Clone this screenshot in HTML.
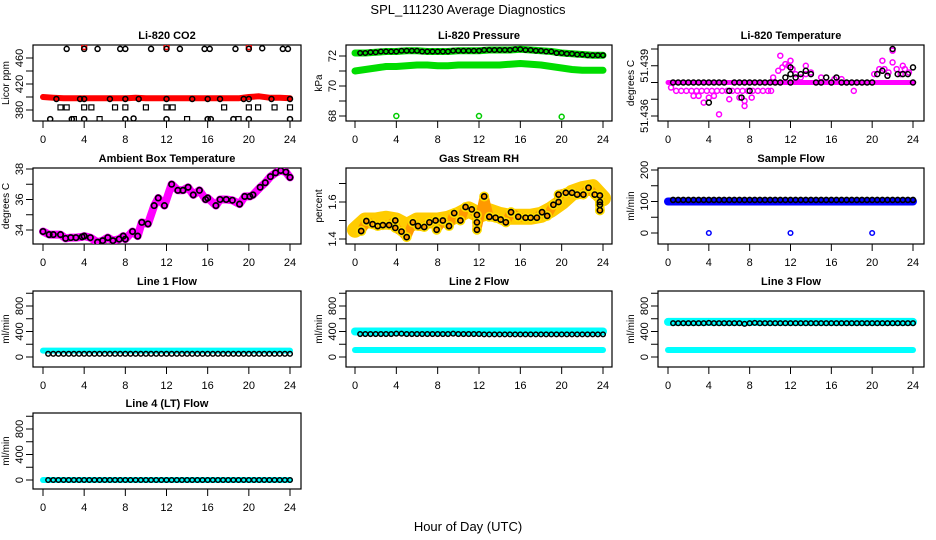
<!DOCTYPE html>
<html><head><meta charset="utf-8">
<style>
html,body{margin:0;padding:0;background:#fff;}
svg{display:block;font-family:"Liberation Sans",sans-serif;}
</style></head>
<body>
<svg id="chart" width="936" height="540" viewBox="0 0 936 540">
<rect x="0" y="0" width="936" height="540" fill="#fff"/>
<text x="468" y="14" font-size="13" text-anchor="middle">SPL_111230  Average Diagnostics</text>
<text x="468" y="531" font-size="13" text-anchor="middle">Hour of Day (UTC)</text>
</svg>
<script>
// ---------- DATA ----------
const xTickLabels = [0,4,8,12,16,20,24];
const HOURS = [0,1,2,3,4,5,6,7,8,9,10,11,12,13,14,15,16,17,18,19,20,21,22,23,24];
const HALF = [0.5,1,1.5,2,2.5,3,3.5,4,4.5,5,5.5,6,6.5,7,7.5,8,8.5,9,9.5,10,10.5,11,11.5,12,12.5,13,13.5,14,14.5,15,15.5,16,16.5,17,17.5,18,18.5,19,19.5,20,20.5,21,21.5,22,22.5,23,23.5,24];

// CO2
const co2Red = [400,399,398,398,398,398,398,398,398,399,398,398,398,398,398,398,398,398,398,398,400,401,399,399,398];
const co2RedOutX = [4,12,20];
const co2RedOutY = [477,477,477];
const co2HiX = [2.3,4,5.3,7.5,8,10.5,12,13.3,15.7,16.2,18.7,20,21.3,23.3,23.8];
const co2HiY = [474,474,474,474,474,474,474,474,474,474,474,474,475,474,474];
const co2MidX = [1.3,3.6,4,6.5,8,9.3,12,14.5,16,17.2,19.5,20,22.2,24];
const co2MidY = [397,397,397,397,397,397,397,397,397,397,397,397,397,397];
const co2LowX = [0.7,2.8,4,8,8.8,12,16,16.3,18.5,20,24];
const co2LowY = [366,366,366,366,367,366,366,366,366,366,366];
const co2SqX = [1.7,2.3,3,4,4.7,5.5,7,8,10,12,12.6,14,17.6,19,20,20.9,22.5,24];
const co2SqY = [384,384,366,384,384,366,384,384,384,384,384,366,384,366,384,384,384,384];

// Pressure
const presUpper = [72.2,72.2,72.25,72.3,72.3,72.35,72.35,72.3,72.3,72.3,72.35,72.35,72.35,72.4,72.4,72.4,72.45,72.4,72.35,72.3,72.2,72.15,72.1,72.05,72.05];
const presLower = [71.0,71.1,71.2,71.3,71.3,71.35,71.4,71.4,71.35,71.35,71.4,71.4,71.4,71.4,71.4,71.45,71.5,71.45,71.4,71.3,71.2,71.1,71.05,71.05,71.05];
const presOutX = [4,12,20];
const presOutY = [68.0,68.0,67.95];

// Li-820 temperature
const tempMain = [51.438,51.438,51.438,51.438,51.438,51.438,51.438,51.438,51.438,51.438,51.438,51.438,51.438,51.438,51.438,51.438,51.438,51.438,51.438,51.438,51.438,51.438,51.438,51.438,51.438];
const tempMagX = [0.3,0.8,1.3,1.8,2.3,2.8,3.3,3.8,4.3,4.8,5.3,5.8,6.3,6.8,7.3,7.8,8.3,8.8,9.3,9.8,2.5,3.0,4.0,4.5,6.0,7.0,7.5,8.2,5.0,7.5,10.3,10.8,11.2,11.5,11.8,12.2,12.5,13.0,13.5,14.0,15.0,16.3,17.0,20.2,20.7,21.2,21.6,22.0,22.4,22.8,23.2,23.6,11.0,12.0,13.5,21.0,22.0,23.0,3.5,10.1,18.2];
const tempMagY = [51.4377,51.4375,51.4375,51.4375,51.4375,51.4375,51.4375,51.4375,51.4375,51.4375,51.4375,51.4375,51.4375,51.4375,51.4375,51.4375,51.4375,51.4375,51.4375,51.4375,51.4372,51.4372,51.4371,51.4372,51.437,51.4371,51.4369,51.4371,51.4361,51.4366,51.4383,51.4387,51.4389,51.4391,51.439,51.4388,51.4385,51.4383,51.4385,51.4386,51.4383,51.4382,51.4382,51.4385,51.4388,51.4388,51.4386,51.4392,51.4388,51.4385,51.4388,51.4386,51.4396,51.4393,51.439,51.4393,51.4399,51.439,51.4368,51.4375,51.4375];
const tempBlkX = [0.5,1,1.5,2,2.5,3,3.5,4,4.5,5,5.5,6,6.5,7,7.5,8,8.5,9,9.5,10,10.5,11,11.5,12,12.5,13,13.5,14,14.5,15,15.5,16,16.5,17,17.5,18,18.5,19,19.5,20,20.5,21,21.5,22,22.5,23,23.5,24,4,7.2,8,12,12,24];
const tempBlkY = [51.438,51.438,51.438,51.438,51.438,51.438,51.438,51.438,51.438,51.438,51.438,51.4375,51.438,51.438,51.438,51.438,51.438,51.438,51.438,51.438,51.438,51.438,51.4383,51.438,51.4383,51.4385,51.4387,51.4385,51.438,51.438,51.4383,51.438,51.4383,51.438,51.438,51.438,51.438,51.438,51.438,51.438,51.4385,51.4387,51.4384,51.440,51.4385,51.4385,51.4385,51.438,51.4368,51.4371,51.4375,51.4389,51.4385,51.4389];

// Ambient box temperature
const ambX = [0,0.6,1.0,1.7,2.2,2.7,3.2,3.8,4.0,4.6,5.3,5.8,6.3,6.8,7.4,7.8,8.0,8.7,9.2,9.6,10.2,10.8,11.2,11.8,12.5,13.1,13.6,14.1,14.6,15.2,15.8,16.0,16.8,17.2,17.8,18.4,19.1,19.6,20.1,20.4,21.1,21.6,22.1,22.6,23.1,23.6,24.0];
const ambY = [33.9,33.7,33.7,33.7,33.45,33.5,33.5,33.55,33.6,33.5,33.2,33.3,33.5,33.3,33.4,33.6,33.4,33.9,33.6,34.5,34.4,35.6,36.1,35.6,37.0,36.6,36.6,36.8,36.3,36.6,36.0,36.1,35.6,36.0,36.0,35.95,35.7,36.2,36.2,36.3,36.8,37.1,37.5,37.75,37.9,37.8,37.45];

// Gas stream RH
const rhBand = [1.45,1.5,1.5,1.51,1.5,1.47,1.5,1.5,1.5,1.51,1.53,1.56,1.53,1.55,1.53,1.52,1.52,1.52,1.53,1.56,1.6,1.65,1.67,1.68,1.62];
const rhX = [0.6,1.1,1.7,2.2,2.7,3.3,3.9,3.9,4.5,5.0,5.6,6.1,6.7,7.2,7.8,7.9,8.5,9.1,9.6,10.2,10.7,11.3,11.8,11.8,11.8,12.5,13.0,13.6,14.1,14.6,15.1,15.8,16.5,17.0,17.6,18.1,18.6,19.2,19.7,19.7,20.4,21.0,21.5,22.1,22.6,23.2,23.7,23.7,23.7,23.7];
const rhY = [1.443,1.497,1.48,1.47,1.475,1.475,1.5,1.46,1.44,1.41,1.49,1.47,1.465,1.49,1.5,1.45,1.5,1.47,1.54,1.5,1.573,1.56,1.53,1.49,1.45,1.63,1.52,1.515,1.505,1.49,1.545,1.52,1.515,1.515,1.515,1.545,1.525,1.585,1.6,1.64,1.65,1.65,1.64,1.64,1.677,1.64,1.635,1.6,1.585,1.555];

// Sample flow
const sfBlue = [100,100,100,100,100,100,100,100,100,100,100,100,100,100,100,100,100,100,100,100,100,100,100,100,100];
const sfBlk = [105,105,105,105,105,105,105,105,105,105,105,105,105,105,105,105,105,105,105,105,105,105,105,105,105,105,105,105,105,105,105,105,105,105,105,105,105,105,105,105,105,105,105,105,105,105,105,105];
const sfOutX = [4,12,20];
const sfOutY = [0,0,0];

// Line flows
const l1Cyan = [100,100,100,100,100,100,100,100,100,100,100,100,100,100,100,100,100,100,100,100,100,100,100,100,100];
const l1Blk = [50,50,50,50,50,50,50,50,50,50,50,50,50,50,50,50,50,50,50,50,50,50,50,50,50,50,50,50,50,50,50,50,50,50,50,50,50,50,50,50,50,50,50,50,50,50,50,50];
const l2CyanHi = [400,400,400,400,400,400,400,400,400,400,400,400,400,400,400,400,400,400,400,400,400,400,400,400,400];
const l2CyanLo = [110,110,110,110,110,110,110,110,110,110,110,110,110,110,110,110,110,110,110,110,110,110,110,110,110];
const l2Blk = [360,360,360,360,360,360,360,365,365,360,360,360,360,360,360,360,360,360,365,360,360,360,360,360,355,355,355,355,355,355,355,355,355,355,355,355,355,355,355,355,355,355,355,355,355,355,355,355];
const l3CyanHi = [550,550,550,550,550,550,550,550,550,550,550,550,550,550,550,550,550,550,550,550,550,550,550,550,550];
const l3CyanLo = [110,110,110,110,110,110,110,110,110,110,110,110,110,110,110,110,110,110,110,110,110,110,110,110,110];
const l3Blk = [530,530,530,530,530,530,530,535,530,530,530,530,530,530,520,530,535,530,530,530,530,530,530,530,530,530,530,530,530,530,530,530,530,530,530,530,530,530,530,530,530,530,530,530,530,530,530,530];
const l4Cyan = [0,0,0,0,0,0,0,0,0,0,0,0,0,0,0,0,0,0,0,0,0,0,0,0,0];
const l4Blk = [0,0,0,0,0,0,0,0,0,0,0,0,0,0,0,0,0,0,0,0,0,0,0,0,0,0,0,0,0,0,0,0,0,0,0,0,0,0,0,0,0,0,0,0,0,0,0,0];

// ---------- DRAWING ----------
const svg = document.getElementById('chart');
const NS = 'http://www.w3.org/2000/svg';
const COLS = [{bl:33,br:301,x0:43,x24:290},{bl:346,br:612,x0:355,x24:603},{bl:658,br:924,x0:668,x24:913}];
const ROWS = [{bt:45,bb:121},{bt:168,bb:244},{bt:291,bb:367},{bt:413,bb:489}];

function el(tag, attrs, parent){
  const e = document.createElementNS(NS, tag);
  for (const k in attrs) e.setAttribute(k, attrs[k]);
  (parent||svg).appendChild(e);
  return e;
}

function panel(name, col, row, title, ylab, v1, p1, v2, p2, ticks, labels){
  const C = COLS[col], R = ROWS[row];
  const g = el('g', {});
  
  
  const xs = h => C.x0 + h * (C.x24 - C.x0) / 24;
  const ys = v => p1 + (v - v1) * (p2 - p1) / (v2 - v1);
  const box = el('rect', {x:C.bl, y:R.bt, width:C.br-C.bl, height:R.bb-R.bt, fill:'none', stroke:'#000', 'stroke-width':1.2}, g);
  
  
  const t = el('text', {x:(C.bl+C.br)/2, y:R.bt-6, 'font-size':11, 'font-weight':'bold', 'text-anchor':'middle'}, g);
  t.textContent = title;
  
  
  const yl = el('text', {x:0, y:0, 'font-size':10, 'text-anchor':'middle', transform:'translate(' + (C.bl-24) + ',' + ((R.bt+R.bb)/2) + ') rotate(-90)'}, g);
  yl.textContent = ylab;
  
  
  // x ticks
  xTickLabels.forEach(h => {
    const tk = el('line', {x1:xs(h), x2:xs(h), y1:R.bb, y2:R.bb+7, stroke:'#000'}, g);
    
    
    const tl = el('text', {x:xs(h), y:R.bb+22, 'font-size':11, 'text-anchor':'middle'}, g);
    tl.textContent = String(h);
    
    
  });
  ticks.forEach(v => {
    const tk = el('line', {x1:C.bl-7, x2:C.bl, y1:ys(v), y2:ys(v), stroke:'#000'}, g);
    
    
  });
  labels.forEach(v => {
    const tl = el('text', {x:0, y:0, 'font-size':11, 'text-anchor':'middle', transform:'translate(' + (C.bl-10) + ',' + ys(v) + ') rotate(-90)'}, g);
    tl.textContent = String(v);
    
    
  });
  const clip = 'clip-' + name;
  const cp = el('clipPath', {id:clip}, g);
  el('rect', {x:C.bl, y:R.bt, width:C.br-C.bl, height:R.bb-R.bt}, cp);
  const dg = el('g', {'clip-path':'url(#' + clip + ')'}, g);
  
  
  return {xs, ys, g:dg, name};
}

function band(P, xa, ya, color, w, label){
  const pts = xa.map((h,i) => P.xs(h).toFixed(1) + ',' + P.ys(ya[i]).toFixed(1)).join(' ');
  const pl = el('polyline', {points:pts, fill:'none', stroke:color, 'stroke-width':w, 'stroke-linejoin':'round', 'stroke-linecap':'round'}, P.g);
  
  
}
function circles(P, xa, ya, color, r, sw, label){
  xa.forEach((h,i) => {
    const c = el('circle', {cx:P.xs(h), cy:P.ys(ya[i]), r:r, fill:'none', stroke:color, 'stroke-width':sw}, P.g);
    
    
  });
}
function squares(P, xa, ya, color, label){
  xa.forEach((h,i) => {
    const s = el('rect', {x:P.xs(h)-2.5, y:P.ys(ya[i])-2.5, width:5, height:5, fill:'none', stroke:color, 'stroke-width':1.2}, P.g);
    
    
  });
}

// CO2
let P = panel('co2',0,0,'Li-820 CO2','Licor ppm',380,110,460,58,[380,400,420,440,460],[380,420,460]);
band(P, HOURS, co2Red, '#f00', 6, 'red-series');
circles(P, co2RedOutX, co2RedOutY, '#f00', 2.5, 1.5, 'red-outlier');
circles(P, co2HiX, co2HiY, '#000', 2.5, 1.5, 'black-point');
circles(P, co2MidX, co2MidY, '#000', 2.5, 1.5, 'black-point');
circles(P, co2LowX, co2LowY, '#000', 2.5, 1.5, 'black-point');
squares(P, co2SqX, co2SqY, '#000', 'black-square');

// Pressure
P = panel('pressure',1,0,'Li-820 Pressure','kPa',72,56,68,116,[68,69,70,71,72],[68,70,72]);
band(P, HOURS, presUpper, '#00dd00', 7, 'green-upper');
band(P, HOURS, presLower, '#00dd00', 7, 'green-lower');
circles(P, HALF, HALF.map((h,i)=>presUpper[Math.min(24,Math.round(h))]), '#000', 2.3, 1.5, 'black-point');
circles(P, presOutX, presOutY, '#00cc00', 2.5, 1.5, 'green-outlier');

// Temperature
P = panel('temperature',2,0,'Li-820 Temperature','degrees C',51.440,49,51.436,116,[51.436,51.437,51.438,51.439,51.440],[51.436,51.439]);
band(P, HOURS, tempMain, '#ff00ff', 5, 'magenta-series');
circles(P, tempMagX, tempMagY, '#ff00ff', 2.5, 1.5, 'magenta-point');
circles(P, tempBlkX, tempBlkY, '#000', 2.5, 1.5, 'black-point');

// Ambient
P = panel('ambient',0,1,'Ambient Box Temperature','degrees C',38,169,34,230,[34,35,36,37,38],[34,36,38]);
band(P, ambX, ambY, '#ff00ff', 8, 'magenta-series');
circles(P, ambX, ambY, '#000', 2.7, 1.7, 'black-point');

// RH
P = panel('rh',1,1,'Gas Stream RH','percent',1.6,202,1.4,239,[1.4,1.5,1.6,1.7],[1.4,1.6]);
band(P, HOURS, rhBand, '#ffcc00', 16, 'yellow-band');
band(P, rhX, rhY, '#ff9900', 9, 'orange-band');
circles(P, rhX, rhY, '#ffdd00', 4, 2, 'yellow-point');
circles(P, rhX, rhY, '#000', 2.6, 1.6, 'black-point');

// Sample flow
P = panel('sample-flow',2,1,'Sample Flow','ml/min',200,170,0,233,[0,50,100,150,200],[0,100,200]);
band(P, HOURS, sfBlue, '#0000ff', 8, 'blue-series');
circles(P, HALF, sfBlk, '#000', 2.5, 1.6, 'black-point');
circles(P, sfOutX, sfOutY, '#0000ff', 2.3, 1.5, 'blue-outlier');

// Line 1
P = panel('line1-flow',0,2,'Line 1 Flow','ml/min',0,357,800,306,[0,200,400,600,800,1000],[0,400,800]);
band(P, HOURS, l1Cyan, '#00ffff', 6, 'cyan-series');
circles(P, HALF, l1Blk, '#000', 2.3, 1.5, 'black-point');

// Line 2
P = panel('line2-flow',1,2,'Line 2 Flow','ml/min',0,357,800,306,[0,200,400,600,800,1000],[0,400,800]);
band(P, HOURS, l2CyanHi, '#00ffff', 8, 'cyan-upper');
band(P, HOURS, l2CyanLo, '#00ffff', 6, 'cyan-lower');
circles(P, HALF, l2Blk, '#000', 2.3, 1.5, 'black-point');

// Line 3
P = panel('line3-flow',2,2,'Line 3 Flow','ml/min',0,357,800,306,[0,200,400,600,800,1000],[0,400,800]);
band(P, HOURS, l3CyanHi, '#00ffff', 8, 'cyan-upper');
band(P, HOURS, l3CyanLo, '#00ffff', 6, 'cyan-lower');
circles(P, HALF, l3Blk, '#000', 2.3, 1.5, 'black-point');

// Line 4
P = panel('line4-flow',0,3,'Line 4 (LT) Flow','ml/min',0,480,800,429,[0,200,400,600,800,1000],[0,400,800]);
band(P, HOURS, l4Cyan, '#00ffff', 6, 'cyan-series');
circles(P, HALF, l4Blk, '#000', 2.3, 1.5, 'black-point');
</script>
</body></html>
